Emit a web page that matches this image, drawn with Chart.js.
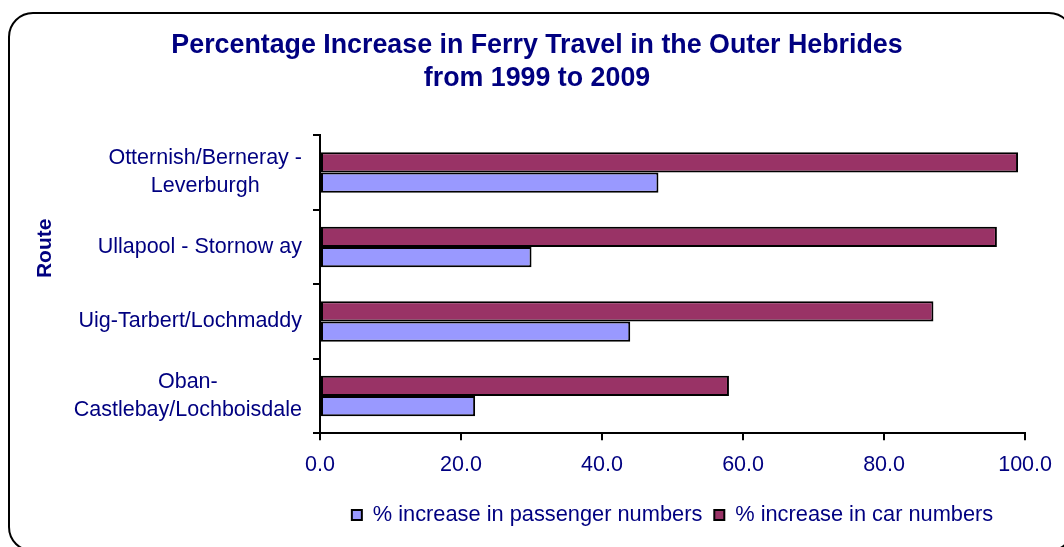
<!DOCTYPE html>
<html>
<head>
<meta charset="utf-8">
<script src="https://cdn.jsdelivr.net/npm/chart.js@4"></script>
<style>
  html, body { margin: 0; padding: 0; background: #fff; overflow: hidden; }
  #frame {
    position: absolute; left: 8px; top: 12px; width: 1066px; height: 540px;
    border: 2px solid #000; border-radius: 25px; box-sizing: border-box;
  }
  #wrap { position: absolute; left: 0; top: 0; width: 1064px; height: 547px; }
</style>
</head>
<body>
<div id="frame"></div>
<div id="wrap"><canvas id="ferryChart"></canvas></div>
<script>
// route names, top to bottom, one entry per line of the label
const routes = [
  ["Otternish/Berneray -", "Leverburgh"],
  ["Ullapool - Stornow ay"],
  ["Uig-Tarbert/Lochmaddy"],
  ["Oban-", "Castlebay/Lochboisdale"]
];
const passengerIncrease = [48, 30, 44, 22];
const carIncrease = [99, 96, 87, 58];
const xTicks = [0, 20, 40, 60, 80, 100];

const navy = "#000080";
const fontName = '"Liberation Sans", Arial, sans-serif';

// Excel style labels: each block right aligned, lines centered inside it.
// The axis title sits above the middle of the axis, as in the original.
const routeLabels = {
  id: "routeLabels",
  afterDraw(chart) {
    const ctx = chart.ctx;
    const yScale = chart.scales.y;
    const labelRight = yScale.right - 18;
    ctx.save();
    ctx.font = "21.5px " + fontName;
    ctx.fillStyle = navy;
    ctx.textAlign = "center";
    ctx.textBaseline = "middle";
    routes.forEach(function(lines, i) {
      var widest = Math.max.apply(null, lines.map(function(l) { return ctx.measureText(l).width; }));
      var cx = labelRight - widest / 2;
      var cy = yScale.getPixelForValue(i);
      lines.forEach(function(line, j) {
        ctx.fillText(line, cx, cy + (j - (lines.length - 1) / 2) * 28);
      });
    });

    ctx.font = "bold 21px " + fontName;
    ctx.translate(yScale.left + 23, chart.chartArea.top + 113);
    ctx.rotate(-Math.PI / 2);
    ctx.fillText("Route", 0, 0);
    ctx.restore();
  }
};

var ctx = document.getElementById("ferryChart").getContext("2d");
var myChart = new Chart(ctx, {
  type: "bar",
  data: {
    labels: routes,
    datasets: [
      {
        label: "% increase in car numbers",
        data: carIncrease,
        backgroundColor: "#993366",
        borderColor: "#000",
        borderWidth: 2,
        borderSkipped: false
      },
      {
        label: "% increase in passenger numbers",
        data: passengerIncrease,
        backgroundColor: "#9999FF",
        borderColor: "#000",
        borderWidth: 2,
        borderSkipped: false
      }
    ]
  },
  options: {
    indexAxis: "y",
    responsive: true,
    maintainAspectRatio: false,
    animation: false,
    categoryPercentage: 0.545,
    barPercentage: 1.0,
    layout: { padding: { left: 22, right: 12, top: 0, bottom: 11 } },
    scales: {
      x: {
        min: 0,
        max: 100,
        afterBuildTicks: function(scale) {
          scale.ticks = xTicks.map(function(v) { return { value: v }; });
        },
        afterFit: function(scale) { scale.height = 59; },
        ticks: {
          color: navy,
          font: { family: fontName, size: 21.5 },
          padding: 12,
          maxRotation: 0,
          callback: function(v) { return Number(v).toFixed(1); }
        },
        grid: { drawOnChartArea: false, color: "#000", lineWidth: 2, tickLength: 7 },
        border: { color: "#000", width: 2 }
      },
      y: {
        afterFit: function(scale) { scale.width = 298; },
        ticks: { display: false },
        grid: { drawOnChartArea: false, color: "#000", lineWidth: 2, tickLength: 7, offset: true },
        border: { color: "#000", width: 2 }
      }
    },
    plugins: {
      title: {
        display: true,
        text: ["Percentage Increase in Ferry Travel in the Outer Hebrides", "from 1999 to 2009"],
        color: navy,
        font: { family: fontName, size: 26.8, weight: "bold", lineHeight: 1.2 },
        padding: { top: 30, bottom: 41 }
      },
      legend: {
        position: "bottom",
        fullSize: false,
        reverse: true,
        labels: {
          color: navy,
          font: { family: fontName, size: 21.8 },
          boxWidth: 10,
          boxHeight: 10,
          padding: 12
        }
      },
      tooltip: { enabled: false }
    }
  },
  plugins: [routeLabels]
});
</script>
</body>
</html>
